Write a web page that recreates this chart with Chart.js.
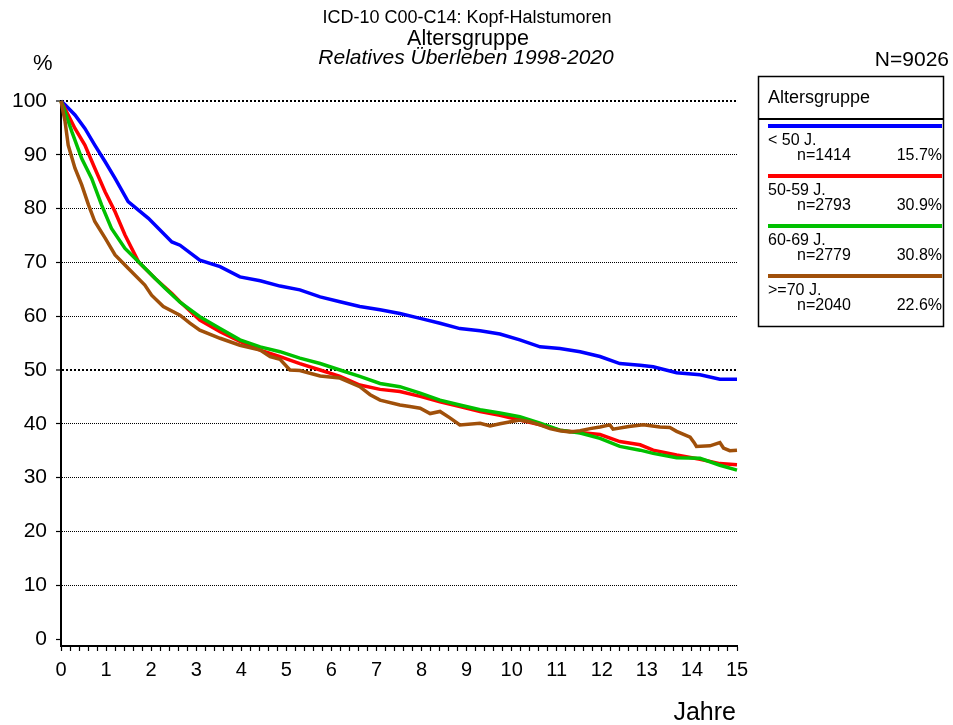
<!DOCTYPE html>
<html>
<head>
<meta charset="utf-8">
<script src="https://cdn.jsdelivr.net/npm/chart.js@4"></script>
<style>
  html, body { margin: 0; padding: 0; background: #fff; }
  #wrap { width: 953px; height: 725px; }
</style>
</head>
<body>
<div id="wrap"><canvas id="myChart" width="953" height="725"></canvas></div>
<script>
const FONT = "'Liberation Sans', Arial, sans-serif"

const groups = ["< 50 J.", "50-59 J.", "60-69 J.", ">=70 J."]
const groupN = ["n=1414", "n=2793", "n=2779", "n=2040"]
const groupPct = ["15.7%", "30.9%", "30.8%", "22.6%"]
const colors = ["#0000ff", "#ff0000", "#00c000", "#a0500a"]

// relative survival in %, by years since diagnosis
const yearsU50 = [0, 0.09, 0.31, 0.53, 0.75, 0.98, 1.2, 1.49, 1.94, 2.46, 2.64, 3.08, 3.53, 3.97, 4.42, 4.86, 5.3, 5.75, 6.19, 6.63, 7.08, 7.52, 7.97, 8.41, 8.85, 9.3, 9.74, 10.18, 10.63, 11.07, 11.52, 11.96, 12.4, 12.85, 13.14, 13.66, 14.18, 14.62, 15]
const survU50 = [100, 99.3, 97.4, 94.9, 91.8, 88.7, 85.6, 81.3, 78.2, 73.8, 73.2, 70.4, 69.2, 67.3, 66.6, 65.6, 64.9, 63.6, 62.7, 61.8, 61.2, 60.5, 59.6, 58.7, 57.7, 57.3, 56.7, 55.6, 54.3, 54.0, 53.4, 52.5, 51.2, 50.9, 50.6, 49.5, 49.1, 48.3, 48.3]

const years5059 = [0, 0.16, 0.31, 0.53, 0.75, 0.98, 1.2, 1.42, 1.72, 2.09, 2.46, 2.64, 3.08, 3.53, 3.97, 4.42, 4.86, 5.3, 5.75, 6.19, 6.63, 7.08, 7.52, 7.97, 8.41, 8.85, 9.3, 9.74, 10.18, 10.63, 11.07, 11.52, 11.96, 12.4, 12.85, 13.14, 13.66, 14.18, 14.62, 15]
const surv5059 = [100, 97.4, 94.9, 91.8, 87.5, 83.1, 79.4, 75.1, 70.1, 67.0, 64.2, 62.7, 59.3, 57.1, 55.3, 53.7, 52.5, 51.2, 50.0, 48.8, 47.2, 46.4, 46.0, 45.1, 44.1, 43.2, 42.3, 41.6, 40.7, 39.8, 38.8, 38.4, 38.0, 36.7, 36.1, 35.1, 34.2, 33.4, 32.6, 32.4]

const years6069 = [0, 0.09, 0.24, 0.46, 0.68, 0.9, 1.12, 1.42, 1.72, 2.09, 2.31, 2.64, 3.08, 3.53, 3.97, 4.42, 4.86, 5.3, 5.75, 6.19, 6.63, 7.08, 7.52, 7.97, 8.41, 8.85, 9.3, 9.74, 10.18, 10.63, 11.07, 11.52, 11.96, 12.4, 12.85, 13.14, 13.66, 14.18, 14.62, 15]
const surv6069 = [100, 98.0, 94.3, 89.3, 85.6, 80.7, 76.3, 72.6, 70.1, 67.0, 65.2, 62.6, 59.9, 57.7, 55.6, 54.3, 53.4, 52.2, 51.2, 50.0, 48.8, 47.5, 46.9, 45.7, 44.4, 43.5, 42.6, 42.0, 41.3, 40.1, 38.8, 38.3, 37.3, 35.8, 35.1, 34.5, 33.7, 33.6, 32.3, 31.4]

const years70 = [0, 0.09, 0.16, 0.31, 0.46, 0.61, 0.75, 0.98, 1.2, 1.49, 1.86, 2.01, 2.27, 2.64, 2.86, 3.08, 3.53, 3.97, 4.42, 4.64, 4.86, 5.08, 5.3, 5.75, 6.19, 6.63, 6.86, 7.08, 7.52, 7.74, 7.97, 8.19, 8.41, 8.63, 8.85, 9.3, 9.52, 9.74, 10.18, 10.4, 10.63, 10.85, 11.07, 11.29, 11.52, 11.74, 11.96, 12.18, 12.25, 12.6, 12.92, 13.29, 13.51, 13.66, 13.96, 14.05, 14.1, 14.4, 14.62, 14.7, 14.84, 15]
const surv70 = [100, 96.2, 91.8, 87.5, 84.4, 80.7, 77.6, 74.5, 71.4, 68.9, 65.8, 63.9, 61.8, 60.2, 58.7, 57.4, 55.9, 54.6, 53.7, 52.5, 52.0, 50.0, 49.9, 48.9, 48.5, 46.9, 45.4, 44.4, 43.5, 43.2, 42.9, 41.9, 42.3, 41.1, 39.8, 40.1, 39.6, 40.0, 40.7, 40.4, 39.8, 39.1, 38.7, 38.5, 38.7, 39.1, 39.4, 39.8, 39.0, 39.5, 39.8, 39.4, 39.3, 38.6, 37.5, 36.5, 35.8, 35.9, 36.5, 35.5, 35.0, 35.1]

const seriesYears = [yearsU50, years5059, years6069, years70]
const seriesSurv = [survU50, surv5059, surv6069, surv70]

const yTicks = []
for (let v = 0; v <= 100; v += 5) yTicks.push(v)
const xTicks = []
for (let i = 0; i <= 75; i++) xTicks.push(Math.round(i * 20) / 100)

const datasets = seriesYears.map((yrs, i) => ({
  label: groups[i],
  data: yrs.map((x, j) => ({ x: x, y: seriesSurv[i][j] })),
  borderColor: colors[i],
  borderWidth: 3.5,
  pointRadius: 0,
  tension: 0,
  fill: false,
  clip: 8,
  order: 3 - i,
}))

// header lines, axis captions and the group box on the right
const annotations = {
  id: "annotations",
  afterDraw(chart) {
    const ctx = chart.ctx
    ctx.save()
    ctx.fillStyle = "#000"
    ctx.textBaseline = "alphabetic"

    ctx.textAlign = "center"
    ctx.font = "18px " + FONT
    ctx.fillText("ICD-10 C00-C14: Kopf-Halstumoren", 467, 23)
    ctx.font = "21.5px " + FONT
    ctx.fillText("Altersgruppe", 468, 45)
    ctx.font = "italic 21px " + FONT
    ctx.fillText("Relatives Überleben 1998-2020", 466, 64)

    ctx.textAlign = "left"
    ctx.font = "22px " + FONT
    ctx.fillText("%", 33, 70)

    ctx.textAlign = "right"
    ctx.font = "21px " + FONT
    ctx.fillText("N=9026", 949, 66)
    ctx.font = "25px " + FONT
    ctx.fillText("Jahre", 736, 720)

    // group box
    ctx.strokeStyle = "#000"
    ctx.lineWidth = 1.5
    ctx.strokeRect(758.5, 76.5, 185, 250)
    ctx.lineWidth = 2
    ctx.beginPath()
    ctx.moveTo(758, 119)
    ctx.lineTo(944, 119)
    ctx.stroke()

    ctx.textAlign = "left"
    ctx.font = "18px " + FONT
    ctx.fillText("Altersgruppe", 768, 103)

    groups.forEach((g, i) => {
      const top = 126 + 50 * i
      ctx.strokeStyle = colors[i]
      ctx.lineWidth = 4
      ctx.beginPath()
      ctx.moveTo(768, top)
      ctx.lineTo(942, top)
      ctx.stroke()
      ctx.font = "16px " + FONT
      ctx.textAlign = "left"
      ctx.fillText(g, 768, top + 19)
      ctx.fillText(groupN[i], 797, top + 34)
      ctx.textAlign = "right"
      ctx.fillText(groupPct[i], 942, top + 34)
    })
    ctx.restore()
  }
}

const major = v => v % 10 === 0

const config = {
  type: "line",
  data: { datasets: datasets },
  options: {
    responsive: false,
    animation: false,
    events: [],
    layout: { padding: { top: 101, right: 216, left: 0, bottom: 0 } },
    plugins: {
      legend: { display: false },
      title: { display: false },
      tooltip: { enabled: false },
    },
    scales: {
      x: {
        type: "linear",
        min: 0,
        max: 15,
        afterBuildTicks: s => { s.ticks = xTicks.map(v => ({ value: v })) },
        afterFit: s => { s.height = 79 },
        ticks: {
          autoSkip: false,
          maxRotation: 0,
          color: "#000",
          padding: 7,
          font: { family: FONT, size: 20 },
          callback: v => (Number.isInteger(v) ? String(v) : ""),
        },
        grid: {
          drawOnChartArea: false,
          drawTicks: true,
          tickLength: 5,
          tickColor: "#000",
          tickWidth: 1.2,
        },
        border: { display: true, color: "#000", width: 2 },
      },
      y: {
        type: "linear",
        min: -1.3,
        max: 100,
        afterBuildTicks: s => { s.ticks = yTicks.map(v => ({ value: v })) },
        afterFit: s => { s.width = 61 },
        ticks: {
          color: "#000",
          padding: 9,
          font: { family: FONT, size: 21 },
          callback: v => (major(v) ? String(v) : ""),
        },
        grid: {
          drawTicks: true,
          tickLength: 5,
          tickColor: "#000",
          tickWidth: 1.2,
          tickBorderDash: [],
          color: c => (c.tick && major(c.tick.value) && c.tick.value > 0 ? "#000" : "rgba(0,0,0,0)"),
          lineWidth: c => (c.tick && (c.tick.value === 100 || c.tick.value === 50) ? 2 : 1),
        },
        border: {
          display: true,
          color: "#000",
          width: 2,
          dash: c => (c.tick && (c.tick.value === 100 || c.tick.value === 50) ? [2, 2] : [1, 1]),
        },
      },
    },
  },
  plugins: [annotations],
}

const MyChart = new Chart(document.getElementById("myChart"), config)
</script>
</body>
</html>
